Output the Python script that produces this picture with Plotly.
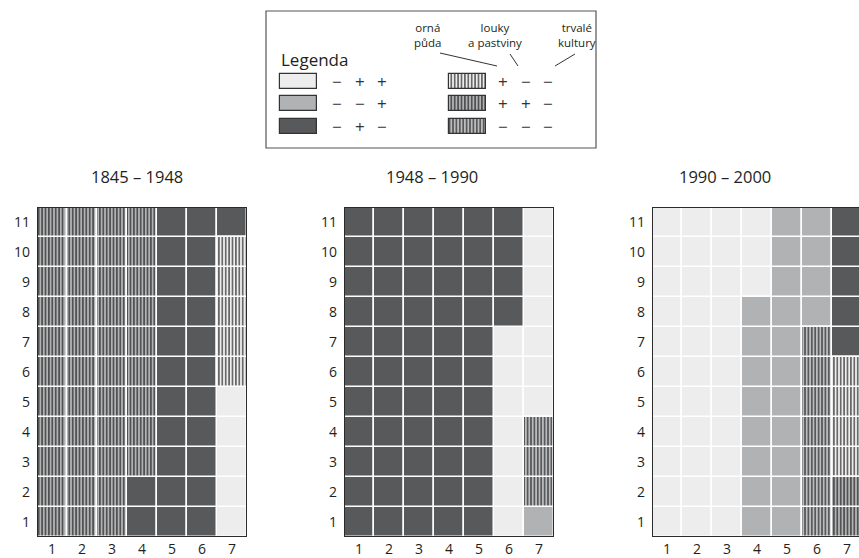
import plotly.graph_objects as go

W, H = 859, 558

# ---- data -------------------------------------------------------------
# category codes: sign triplets for (orná půda, louky a pastviny, trvalé kultury)
categories = ["L", "M", "D", "HL", "HM", "HD"]
category_signs = {
    "L": "−   +   +",
    "M": "−   −   +",
    "D": "−   +   −",
    "HL": "+   −   −",
    "HM": "+   +   −",
    "HD": "−   −   −",
}
period_titles = ["1845 – 1948", "1948 – 1990", "1990 – 2000"]
col_labels = [1, 2, 3, 4, 5, 6, 7]
row_labels = [1, 2, 3, 4, 5, 6, 7, 8, 9, 10, 11]

# each column listed bottom (row 1) -> top (row 11)
grid_1845_1948 = [
    ["HM"] * 11,
    ["HM"] * 11,
    ["HM"] * 11,
    ["D", "D"] + ["HM"] * 9,
    ["D"] * 11,
    ["D"] * 11,
    ["L"] * 5 + ["HL"] * 5 + ["D"],
]
grid_1948_1990 = [
    ["D"] * 11,
    ["D"] * 11,
    ["D"] * 11,
    ["D"] * 11,
    ["D"] * 11,
    ["L"] * 7 + ["D"] * 4,
    ["M"] + ["HD"] * 3 + ["L"] * 7,
]
grid_1990_2000 = [
    ["L"] * 11,
    ["L"] * 11,
    ["L"] * 11,
    ["M"] * 8 + ["L"] * 3,
    ["M"] * 11,
    ["HD"] * 7 + ["M"] * 4,
    ["HM"] * 2 + ["HL"] * 4 + ["D"] * 5,
]
grids = [grid_1845_1948, grid_1948_1990, grid_1990_2000]

# ---- styles -----------------------------------------------------------
LIGHT, MID, DARK = "#ededed", "#b1b2b4", "#58595b"
style = {
    "L": dict(bg=LIGHT, fg=LIGHT, shape=""),
    "M": dict(bg=MID, fg=MID, shape=""),
    "D": dict(bg=DARK, fg=DARK, shape=""),
    "HL": dict(bg=LIGHT, fg="#111111", shape="|"),
    "HM": dict(bg=MID, fg="#111111", shape="|"),
    "HD": dict(bg=DARK, fg="#ffffff", shape="|"),
}
FONT = "Open Sans"
TXT = "#231f20"
PAT_SIZE, PAT_SOLID = 3.4, 0.3

def px_x(p):
    return p / W

def px_y(p):
    return 1 - p / H

fig = go.Figure()

# panel geometry in pixels (left edge, right edge); grid top/bottom
panels_px = [(37, 247), (344, 554), (652, 859)]
grid_top, grid_bot = 207, 537
cell = (grid_bot - grid_top) / 11

for i, grid in enumerate(grids):
    ax = "" if i == 0 else str(i + 1)
    for cat in categories:
        xs, bases = [], []
        for ci, col in enumerate(grid):
            for ri, c in enumerate(col):
                if c == cat:
                    xs.append(col_labels[ci])
                    bases.append(row_labels[ri] - 0.5)
        if not xs:
            continue
        s = style[cat]
        fig.add_trace(go.Bar(
            x=xs, y=[1] * len(xs), base=bases, width=1,
            xaxis="x" + ax, yaxis="y" + ax,
            marker=dict(color=s["bg"], line=dict(color="white", width=1.5),
                        pattern=dict(shape=s["shape"], bgcolor=s["bg"], fgcolor=s["fg"],
                                     size=PAT_SIZE, solidity=PAT_SOLID, fillmode="replace")),
            showlegend=False, hoverinfo="skip",
        ))

layout = dict(width=W, height=H, margin=dict(l=0, r=0, t=0, b=0, autoexpand=False),
              template="none",
              paper_bgcolor="white", plot_bgcolor="white", barmode="overlay",
              bargap=0, font=dict(family=FONT, color=TXT))
shapes, annotations = [], []
for i, (l, r) in enumerate(panels_px):
    ax = "" if i == 0 else str(i + 1)
    xr = [0.5, 0.5 + (r - l) / cell]
    layout["xaxis" + ax] = dict(domain=[px_x(l), px_x(r)], range=xr, tickvals=col_labels,
                                showgrid=False, zeroline=False, fixedrange=True,
                                automargin=False, showline=False,
                                tickfont=dict(size=14, color=TXT, family=FONT),
                                ticks="", ticklabelstandoff=2,
                                anchor="y" + ax)
    layout["yaxis" + ax] = dict(domain=[px_y(grid_bot), px_y(grid_top)], range=[0.5, 11.5],
                                tickvals=row_labels, showgrid=False, zeroline=False,
                                fixedrange=True, automargin=False, showline=False,
                                tickfont=dict(size=14, color=TXT, family=FONT),
                                ticks="", ticklabelstandoff=6,
                                anchor="x" + ax)
    shapes.append(dict(type="rect", xref="x" + ax, yref="y" + ax, x0=0.5, x1=7.5,
                       y0=0.5, y1=11.5, line=dict(color="#2b2b2b", width=2), layer="above"))

title_cx = [137, 432, 725]
for t, cx in zip(period_titles, title_cx):
    annotations.append(dict(text=t, x=px_x(cx), y=px_y(177), xref="paper", yref="paper",
                            xanchor="center", yanchor="middle", showarrow=False,
                            font=dict(size=16.5, color=TXT, family=FONT)))

# ---- legend box -----------------------------------------------------------
LX0, LX1, LY0, LY1 = 266, 596, 11, 148
layout["xaxis4"] = dict(domain=[px_x(LX0), px_x(LX1)], range=[LX0, LX1], visible=False,
                        fixedrange=True, automargin=False, anchor="y4")
layout["yaxis4"] = dict(domain=[px_y(LY1), px_y(LY0)], range=[LY1, LY0], visible=False,
                        fixedrange=True, automargin=False, anchor="x4")
shapes.append(dict(type="rect", xref="paper", yref="paper", x0=px_x(LX0), x1=px_x(LX1),
                   y0=px_y(LY1), y1=px_y(LY0), line=dict(color="#555555", width=1.2)))

legend_cols = [["L", "M", "D"], ["HL", "HM", "HD"]]
sw_left = [280, 449]
sign_left = [337, 503]
row_top0, row_step, sw_w, sw_h = 74, 22.3, 37, 15
for gi, cats in enumerate(legend_cols):
    for ri, cat in enumerate(cats):
        s = style[cat]
        top = row_top0 + ri * row_step
        fig.add_trace(go.Bar(
            x=[sw_left[gi] + sw_w / 2], y=[sw_h], base=[top], width=sw_w,
            xaxis="x4", yaxis="y4",
            marker=dict(color=s["bg"], line=dict(color="#333333", width=1.2),
                        pattern=dict(shape=s["shape"], bgcolor=s["bg"], fgcolor=s["fg"],
                                     size=PAT_SIZE, solidity=PAT_SOLID, fillmode="replace")),
            showlegend=False, hoverinfo="skip"))
        for k, sg in enumerate(category_signs[cat].split()):
            annotations.append(dict(text=sg, x=sign_left[gi] + k * 22.7, y=top + sw_h / 2,
                                    xref="x4", yref="y4", showarrow=False,
                                    font=dict(size=17, color="#333333", family=FONT)))

annotations.append(dict(text="Legenda", x=279, y=59, xref="x4", yref="y4", xanchor="left",
                        showarrow=False, font=dict(size=17, color=TXT, family=FONT)))
head_labels = [("orná<br>půda", 428), ("louky<br>a pastviny", 495), ("trvalé<br>kultury", 577)]
for txt, cx in head_labels:
    annotations.append(dict(text=txt, x=cx, y=35, xref="x4", yref="y4", showarrow=False,
                            font=dict(size=11.5, color=TXT, family=FONT)))
for (x0, y0, x1, y1) in [(440, 53, 497, 66), (510, 54, 518, 66), (575, 54, 555, 66)]:
    shapes.append(dict(type="line", xref="x4", yref="y4", x0=x0, y0=y0, x1=x1, y1=y1,
                       line=dict(color="#333333", width=1)))

layout["shapes"] = shapes
layout["annotations"] = annotations
fig.update_layout(**layout)
fig.write_html("out.html", config={"displayModeBar": False},
               post_script="document.body.style.margin='0px';document.body.style.overflow='hidden';")
